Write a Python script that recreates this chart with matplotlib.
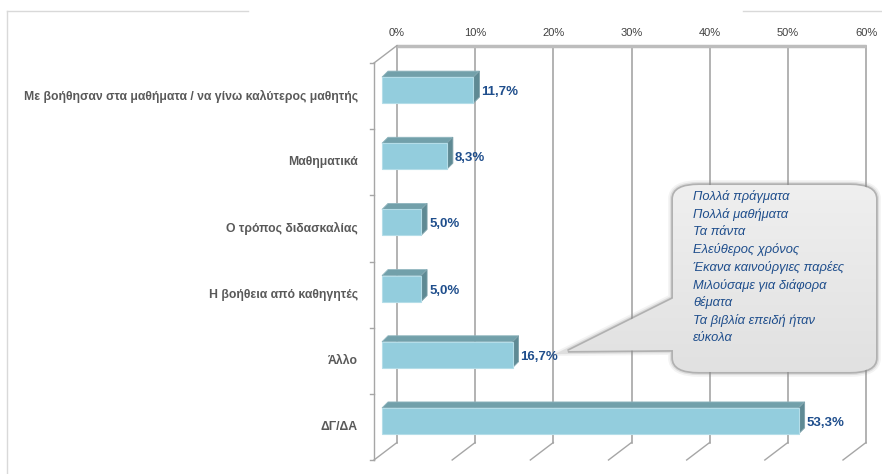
import matplotlib
matplotlib.use("Agg")
import matplotlib.pyplot as plt
import numpy as np
from matplotlib.patches import Polygon, FancyBboxPatch, PathPatch
from matplotlib.path import Path

# Survey answers and their share of responses (%)
categories = [
    "Με βοήθησαν στα μαθήματα / να γίνω καλύτερος μαθητής",
    "Μαθηματικά",
    "Ο τρόπος διδασκαλίας",
    "Η βοήθεια από καθηγητές",
    "Άλλο",
    "ΔΓ/ΔΑ",
]
values = [11.7, 8.3, 5.0, 5.0, 16.7, 53.3]
x_ticks = [0, 10, 20, 30, 40, 50, 60]

# free-text answers listed under "Άλλο"
other_answers = [
    "Πολλά πράγματα",
    "Πολλά μαθήματα",
    "Τα πάντα",
    "Ελεύθερος χρόνος",
    "Έκανα καινούργιες παρέες",
    "Μιλούσαμε για διάφορα",
    "θέματα",
    "Τα βιβλία επειδή ήταν",
    "εύκολα",
]

plt.rcParams["font.family"] = ["Liberation Sans", "DejaVu Sans"]

W, H, DPI = 882, 474, 100
fig = plt.figure(figsize=(W / DPI, H / DPI), dpi=DPI)
fig.patch.set_facecolor("white")

# front plane of the 3D plot, in pixels
left_px, right_px, top_px, bot_px = 374, 843, 63, 460
ax = fig.add_axes([left_px / W, 1 - bot_px / H,
                   (right_px - left_px) / W, (bot_px - top_px) / H])
ax.set_xlim(0, 60)
ax.set_ylim(len(categories) - 0.5, -0.5)
ax.axis("off")

PX_X = (right_px - left_px) / 60.0
PX_Y = (bot_px - top_px) / len(categories)


def shift(x, y, px, py):
    # move a data point by px to the right and py up (pixels)
    return x + px / PX_X, y - py / PX_Y


DEPTH = (23, 17.5)
grid_col = "#A6A6A6"
y0, y1 = -0.5, len(categories) - 0.5

# back wall gridlines, floor diagonals and tick labels
for t in x_ticks:
    bx0, by0 = shift(t, y0, *DEPTH)
    bx1, by1 = shift(t, y1, *DEPTH)
    ax.plot([bx0, bx1], [by0, by1], color=grid_col, lw=1.2, clip_on=False, zorder=1)
    ax.plot([t, bx1], [y1, by1], color=grid_col, lw=1.0, clip_on=False, zorder=1)
    lx, ly = shift(t, y0, 23, 30)
    ax.text(lx, ly, f"{t}%", ha="center", va="center", fontsize=8,
            color="#404040", clip_on=False)

# top edge of the back wall
tx0, ty0 = shift(0, y0, *DEPTH)
tx1, ty1 = shift(60, y0, *DEPTH)
ax.plot([tx0, tx1], [ty0, ty1], color="#BDBDBD", lw=2.5, clip_on=False,
        solid_capstyle="butt", zorder=1)

# left wall: front axis, top diagonal and category ticks
ax.plot([0, 0], [y0, y1], color=grid_col, lw=1.0, clip_on=False, zorder=1)
ax.plot([0, tx0], [y0, ty0], color=grid_col, lw=1.0, clip_on=False, zorder=1)
for b in np.arange(y0, y1 + 0.01, 1.0):
    ax.plot([shift(0, b, -4, 0)[0], 0], [b, b], color=grid_col, lw=1.0,
            clip_on=False, zorder=1)

# 3D bars
front_c, top_c, side_c = "#93CDDD", "#72A0AA", "#5F8A94"
half = 0.196
for i, v in enumerate(values):
    ax_, ayt = shift(0, i - half, 8, 6)
    bx_, _ = shift(v, i - half, 8, 6)
    _, ayb = shift(0, i + half, 8, 6)
    front = [(ax_, ayt), (bx_, ayt), (bx_, ayb), (ax_, ayb)]
    top = [(ax_, ayt), (bx_, ayt), shift(bx_, ayt, 6, 6), shift(ax_, ayt, 6, 6)]
    side = [(bx_, ayt), shift(bx_, ayt, 6, 6), shift(bx_, ayb, 6, 6), (bx_, ayb)]
    ax.add_patch(Polygon(top, closed=True, fc=top_c, ec="#8FB5BE", lw=0.6, zorder=3, clip_on=False))
    ax.add_patch(Polygon(side, closed=True, fc=side_c, ec="#7FA3AC", lw=0.6, zorder=3, clip_on=False))
    ax.add_patch(Polygon(front, closed=True, fc=front_c, ec="#B4DDE8", lw=0.8, zorder=4, clip_on=False))
    lx, ly = shift(v, i, 16, 4)
    ax.text(lx, ly, f"{v:.1f}%".replace(".", ","), ha="left", va="center",
            fontsize=9.5, fontweight="bold", color="#1F4E8C", zorder=6, clip_on=False)

# category labels
for i, c in enumerate(categories):
    lx, _ = shift(0, i, -16, 0)
    ax.text(lx, i, c, ha="right", va="center", fontsize=8.8, fontweight="bold",
            color="#595959", clip_on=False)

# chart area border (broken where the title sits)
fig.add_artist(plt.Line2D([7 / W, 248 / W], [1 - 11 / H] * 2, color="#D9D9D9", lw=1))
fig.add_artist(plt.Line2D([743 / W, 1], [1 - 11 / H] * 2, color="#D9D9D9", lw=1))
fig.add_artist(plt.Line2D([7 / W] * 2, [1 - 11 / H, 0], color="#D9D9D9", lw=1))

# callout with the "Άλλο" answers
bx0, by0, bx1, by1 = 673, 173, 876, 384   # pixels, top-left origin
r = 26
tip = (568, 351)
tail_top, tail_bot = 297, 350


def fp(x, y):
    return (x / W, 1 - y / H)


box = FancyBboxPatch(fp(bx0 + r, by1 - r),
                     (bx1 - bx0 - 2 * r) / W, (by1 - by0 - 2 * r) / H,
                     boxstyle=f"round,pad={r / W}", transform=fig.transFigure)
box_path = box.get_path().transformed(box.get_patch_transform())
tail_path = Path([fp(bx0 + 3, tail_top), fp(*tip), fp(bx0 + 3, tail_bot), fp(bx0 + 3, tail_top)],
                 [Path.MOVETO, Path.LINETO, Path.LINETO, Path.CLOSEPOLY])
union = Path.make_compound_path(box_path, tail_path)

# soft shadow and outline
for lw, a in [(7, 0.10), (4.5, 0.2), (2.5, 0.55)]:
    fig.add_artist(PathPatch(union, transform=fig.transFigure, fc="none",
                             ec="#8C8C8C", lw=lw, alpha=a, zorder=7))
grad = np.linspace(0, 1, 256).reshape(-1, 1)
gax = fig.add_axes([0, 0, 1, 1], zorder=8)
gax.set_xlim(0, 1)
gax.set_ylim(0, 1)
gax.axis("off")
gax.patch.set_alpha(0)
im = gax.imshow(grad, extent=(fp(*tip)[0], fp(bx1, 0)[0], fp(0, by1)[1], fp(0, by0)[1]),
                cmap=matplotlib.colors.LinearSegmentedColormap.from_list("g", ["#E0E0E0", "#F0F0F0"]),
                aspect="auto", origin="lower")
clip = PathPatch(union, transform=fig.transFigure, fc="none", ec="none")
gax.add_patch(clip)
im.set_clip_path(clip)

for k, line in enumerate(other_answers):
    gax.text(*fp(693, 197 + k * 17.6), line, ha="left", va="center", fontsize=9.3,
             style="italic", color="#1F4E8C", transform=fig.transFigure)

fig.savefig("out.png", dpi=DPI)
